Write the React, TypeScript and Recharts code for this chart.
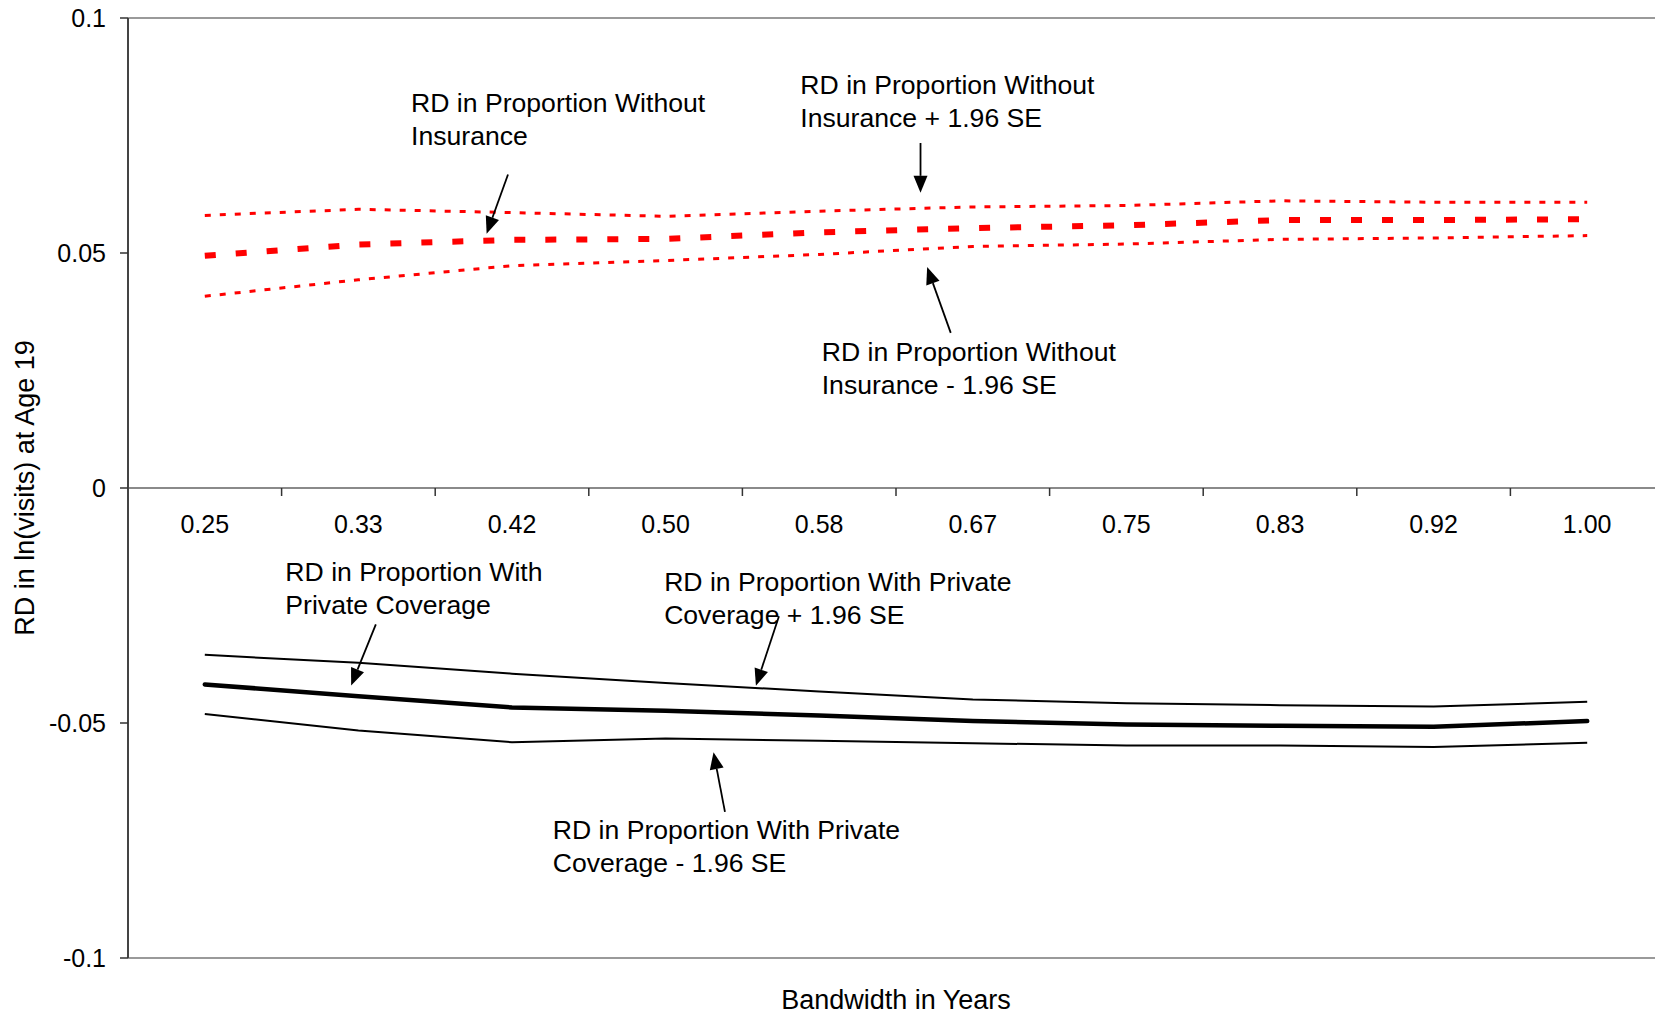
import React from 'react';
import { LineChart, Line, XAxis, YAxis, ReferenceLine, ReferenceDot } from 'recharts';

// bandwidth in months, shown as fractions of a year
const bandwidthMonths = [3, 4, 5, 6, 7, 8, 9, 10, 11, 12];
const bandwidthLabels = ['0.25', '0.33', '0.42', '0.50', '0.58', '0.67', '0.75', '0.83', '0.92', '1.00'];

const uninsured = [0.0494, 0.0518, 0.0528, 0.053, 0.0544, 0.0553, 0.0559, 0.057, 0.057, 0.0572];
const uninsuredHi = [0.058, 0.0593, 0.0586, 0.0578, 0.0589, 0.0598, 0.0601, 0.0611, 0.0608, 0.0608];
const uninsuredLo = [0.0408, 0.0443, 0.0473, 0.0484, 0.0497, 0.0514, 0.0519, 0.0529, 0.0532, 0.0537];

const privateCov = [-0.0418, -0.0443, -0.0467, -0.0474, -0.0484, -0.0496, -0.0503, -0.0506, -0.0508, -0.0496];
const privateHi = [-0.0355, -0.0372, -0.0395, -0.0415, -0.0433, -0.045, -0.0458, -0.0462, -0.0465, -0.0455];
const privateLo = [-0.0481, -0.0516, -0.0541, -0.0533, -0.0538, -0.0543, -0.0548, -0.0548, -0.0551, -0.0542];

const yTicks = [-0.1, -0.05, 0, 0.05, 0.1];

// callouts: text block (left edge, first line centre) and arrow tail -> head, in chart units
const notes = [
  { x: 0.3619, y: 0.082, lines: ['RD in Proportion Without', 'Insurance'] },
  { x: 0.5731, y: 0.0857, lines: ['RD in Proportion Without', 'Insurance + 1.96 SE'] },
  { x: 0.5847, y: 0.0289, lines: ['RD in Proportion Without', 'Insurance - 1.96 SE'] },
  { x: 0.2937, y: -0.0179, lines: ['RD in Proportion With', 'Private Coverage'] },
  { x: 0.4992, y: -0.02, lines: ['RD in Proportion With Private', 'Coverage + 1.96 SE'] },
  { x: 0.4388, y: -0.0728, lines: ['RD in Proportion With Private', 'Coverage - 1.96 SE'] },
];

const arrows = [
  { from: [0.4145, 0.0667], to: [0.4029, 0.0541] },
  { from: [0.6383, 0.0734], to: [0.6383, 0.0628] },
  { from: [0.6547, 0.033], to: [0.6419, 0.047] },
  { from: [0.3428, -0.029], to: [0.3294, -0.042] },
  { from: [0.5615, -0.0273], to: [0.549, -0.0421] },
  { from: [0.5322, -0.0689], to: [0.526, -0.0562] },
];

const data = bandwidthMonths.map((m, i) => ({
  years: m / 12,
  uninsured: uninsured[i],
  uninsuredHi: uninsuredHi[i],
  uninsuredLo: uninsuredLo[i],
  privateCov: privateCov[i],
  privateHi: privateHi[i],
  privateLo: privateLo[i],
}));

const FONT = '"Liberation Sans", Arial, sans-serif';

// x axis sitting on y = 0, ticks between categories
const ZeroAxis = (props: any) => {
  const { x1, x2, y1 } = props;
  const band = (x2 - x1) / bandwidthLabels.length;
  return (
    <g>
      <line x1={x1} y1={y1} x2={x2} y2={y1} stroke="#8a8a8a" strokeWidth={2} />
      {bandwidthLabels.slice(1).map((_, i) => (
        <line
          key={'t' + i}
          x1={x1 + (i + 1) * band}
          x2={x1 + (i + 1) * band}
          y1={y1}
          y2={y1 + 8}
          stroke="#333"
          strokeWidth={1.5}
        />
      ))}
      {bandwidthLabels.map((lab, i) => (
        <text key={lab} x={x1 + (i + 0.5) * band} y={y1 + 45} textAnchor="middle" fontSize={25} fill="#000">
          {lab}
        </text>
      ))}
    </g>
  );
};

const Arrow = (props: any) => {
  const { x1, y1, x2, y2 } = props;
  const dx = x2 - x1;
  const dy = y2 - y1;
  const len = Math.sqrt(dx * dx + dy * dy) || 1;
  const ux = dx / len;
  const uy = dy / len;
  const head = 17;
  const half = 7;
  const bx = x2 - ux * head;
  const by = y2 - uy * head;
  return (
    <g>
      <line x1={x1} y1={y1} x2={bx} y2={by} stroke="#000" strokeWidth={1.8} />
      <polygon
        points={`${x2},${y2} ${bx - uy * half},${by + ux * half} ${bx + uy * half},${by - ux * half}`}
        fill="#000"
      />
    </g>
  );
};

const noteShape = (lines: string[]) => (props: any) => (
  <text x={props.cx} y={props.cy + 9} fontSize={26.6} fill="#000">
    {lines.map((t, i) => (
      <tspan key={i} x={props.cx} dy={i === 0 ? 0 : 33}>
        {t}
      </tspan>
    ))}
  </text>
);

export default function App() {
  return (
    <div
      style={{
        position: 'absolute',
        left: 0,
        top: 0,
        width: 1655,
        height: 1015,
        overflow: 'hidden',
        background: '#fff',
        fontFamily: FONT,
      }}
    >
      <LineChart
        width={1680}
        height={1015}
        data={data}
        margin={{ top: 18, right: 16, bottom: 0, left: 0 }}
        style={{ fontFamily: FONT }}
      >
        <XAxis
          type="number"
          dataKey="years"
          domain={[2.5 / 12, 12.5 / 12]}
          tick={false}
          tickLine={false}
          axisLine={{ stroke: '#9a9a9a', strokeWidth: 2 }}
          height={57}
          label={{
            content: (p: any) => {
              const vb = p.viewBox;
              return (
                <text x={vb.x + vb.width / 2} y={vb.y + 51} textAnchor="middle" fontSize={27} fill="#000">
                  Bandwidth in Years
                </text>
              );
            },
          }}
        />
        <YAxis
          type="number"
          domain={[-0.1, 0.1]}
          ticks={yTicks}
          interval={0}
          width={128}
          tickSize={8}
          tickMargin={14}
          tickFormatter={(v: number) => String(v)}
          tick={{ fontSize: 25, fill: '#000' }}
          tickLine={{ stroke: '#333', strokeWidth: 1.5 }}
          axisLine={{ stroke: '#444', strokeWidth: 2 }}
          label={{
            content: (p: any) => {
              const vb = p.viewBox;
              const cx = vb.x + 25;
              const cy = vb.y + vb.height / 2;
              return (
                <text
                  x={cx}
                  y={cy}
                  transform={`rotate(-90 ${cx} ${cy})`}
                  textAnchor="middle"
                  dominantBaseline="central"
                  fontSize={27}
                  fill="#000"
                >
                  RD in ln(visits) at Age 19
                </text>
              );
            },
          }}
        />
        <ReferenceLine y={0.1} stroke="#9a9a9a" strokeWidth={2} />
        <ReferenceLine y={0} shape={ZeroAxis} />

        <Line type="linear" dataKey="uninsuredHi" stroke="#ff0000" strokeWidth={3} strokeDasharray="6 9" dot={false} isAnimationActive={false} />
        <Line type="linear" dataKey="uninsuredLo" stroke="#ff0000" strokeWidth={3} strokeDasharray="6 9" dot={false} isAnimationActive={false} />
        <Line type="linear" dataKey="uninsured" stroke="#ff0000" strokeWidth={6} strokeDasharray="11 20" dot={false} isAnimationActive={false} />
        <Line type="linear" dataKey="privateHi" stroke="#000" strokeWidth={2} dot={false} isAnimationActive={false} />
        <Line type="linear" dataKey="privateLo" stroke="#000" strokeWidth={2} dot={false} isAnimationActive={false} />
        <Line type="linear" dataKey="privateCov" stroke="#000" strokeWidth={4.5} strokeLinecap="round" dot={false} isAnimationActive={false} />

        {arrows.map((a, i) => (
          <ReferenceLine
            key={'a' + i}
            segment={[
              { x: a.from[0], y: a.from[1] },
              { x: a.to[0], y: a.to[1] },
            ]}
            shape={Arrow}
          />
        ))}
        {notes.map((n, i) => (
          <ReferenceDot key={'n' + i} x={n.x} y={n.y} r={0} shape={noteShape(n.lines)} />
        ))}
      </LineChart>
    </div>
  );
}
